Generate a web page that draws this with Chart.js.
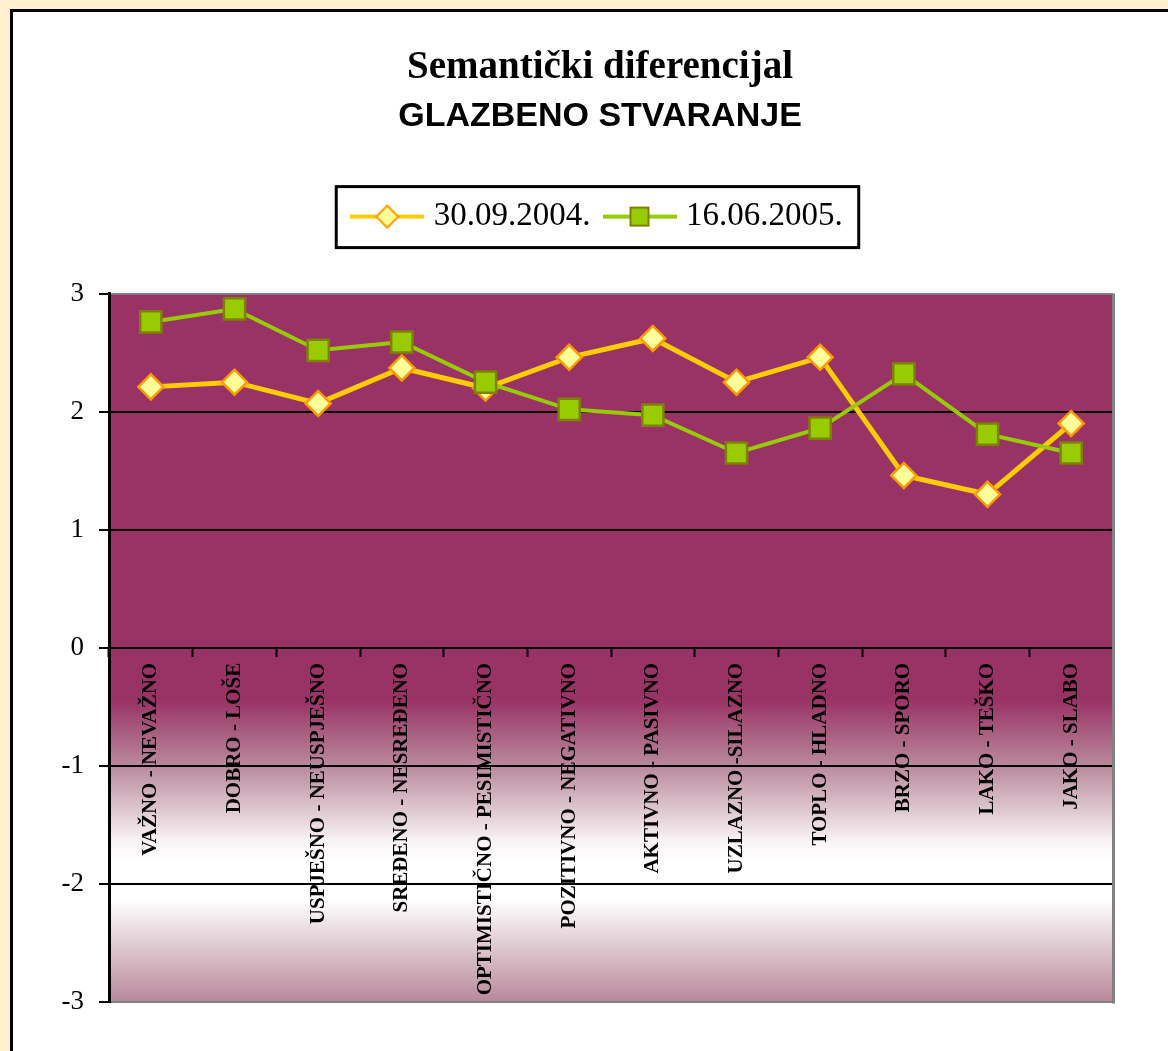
<!DOCTYPE html>
<html>
<head>
<meta charset="utf-8">
<script src="https://cdn.jsdelivr.net/npm/chart.js@4/dist/chart.umd.min.js"></script>
<style>
  body { margin: 0; background: #FFEFCC; width: 1168px; height: 1051px; overflow: hidden; }
  #panel { position: absolute; left: 10px; top: 9px; width: 1170px; height: 1060px; background: #fff;
           border-top: 3px solid #000; border-left: 3px solid #000; }
  #wrap { position: absolute; left: 0; top: 0; width: 1200px; height: 1051px; }
</style>
</head>
<body>
<div id="panel"></div>
<div id="wrap"><canvas id="chart" width="1200" height="1051"></canvas></div>
<script>
const categories = ['VAŽNO - NEVAŽNO', 'DOBRO - LOŠE', 'USPJEŠNO - NEUSPJEŠNO', 'SREĐENO - NESREĐENO',
  'OPTIMISTIČNO - PESIMISTIČNO', 'POZITIVNO - NEGATIVNO', 'AKTIVNO - PASIVNO', 'UZLAZNO -SILAZNO',
  'TOPLO - HLADNO', 'BRZO - SPORO', 'LAKO - TEŠKO', 'JAKO - SLABO'];
const series2004 = [2.21, 2.25, 2.07, 2.37, 2.20, 2.46, 2.62, 2.25, 2.46, 1.46, 1.30, 1.90];
const series2005 = [2.76, 2.87, 2.52, 2.59, 2.25, 2.02, 1.97, 1.65, 1.86, 2.32, 1.81, 1.65];
const yTicks = [3, 2, 1, 0, -1, -2, -3];

// legend icons: line with marker in the middle
function legendIcon(lineColor, lineW, shape, fill, stroke) {
  const c = document.createElement('canvas');
  c.width = 74; c.height = 30;
  const g = c.getContext('2d');
  g.strokeStyle = lineColor; g.lineWidth = lineW;
  g.beginPath(); g.moveTo(0, 15); g.lineTo(74, 15); g.stroke();
  g.fillStyle = fill; g.strokeStyle = stroke; g.lineWidth = 2;
  g.beginPath();
  if (shape === 'diamond') {
    g.moveTo(37, 4); g.lineTo(48, 15); g.lineTo(37, 26); g.lineTo(26, 15); g.closePath();
  } else {
    g.rect(28, 6, 18, 18);
  }
  g.fill(); g.stroke();
  return c;
}
const icons = [
  legendIcon('#FFCC00', 4, 'diamond', '#FFFF99', '#FF9900'),
  legendIcon('#99CC00', 4, 'square', '#99CC00', '#808000')
];

// plot area shading, right border, legend frame
const plotArea = {
  id: 'plotArea',
  beforeDraw(chart) {
    const {ctx, chartArea: a} = chart;
    const grd = ctx.createLinearGradient(0, a.top, 0, a.bottom);
    grd.addColorStop(0, '#993366');
    grd.addColorStop(0.574, '#993366');
    grd.addColorStop(0.667, '#B98A9C');
    grd.addColorStop(0.772, '#F8F2F4');
    grd.addColorStop(0.80, '#FFFFFF');
    grd.addColorStop(0.856, '#FFFFFF');
    grd.addColorStop(1, '#B8889A');
    ctx.save();
    ctx.fillStyle = grd;
    ctx.fillRect(a.left, a.top, a.right - a.left, a.bottom - a.top);
    ctx.restore();
  },
  beforeDatasetsDraw(chart) {
    const {ctx, chartArea: a} = chart;
    ctx.save();
    ctx.strokeStyle = '#808080'; ctx.lineWidth = 3;
    ctx.beginPath(); ctx.moveTo(a.right + 0.5, a.top); ctx.lineTo(a.right + 0.5, a.bottom + 1.5); ctx.stroke();
    ctx.restore();
  },
  afterDraw(chart) {
    const hb = chart.legend.legendHitBoxes;
    if (!hb || !hb.length) return;
    const last = hb[hb.length - 1];
    const left = hb[0].left - 21, right = last.left + last.width + 16;
    const cy = hb[0].top + 16.5;
    const {ctx} = chart;
    ctx.save();
    ctx.strokeStyle = '#000'; ctx.lineWidth = 3;
    ctx.strokeRect(left, cy - 30, right - left, 61);
    ctx.restore();
  }
};

new Chart(document.getElementById('chart'), {
  type: 'line',
  data: {
    labels: categories,
    datasets: [
      {
        label: '30.09.2004.',
        data: series2004,
        xAxisID: 'x',
        yAxisID: 'y',
        borderColor: '#FFCC00',
        borderWidth: 5,
        pointStyle: 'rectRot',
        pointRadius: 12.5,
        pointBackgroundColor: '#FFFF99',
        pointBorderColor: '#FF9900',
        pointBorderWidth: 2.5,
        tension: 0,
        order: 1
      },
      {
        label: '16.06.2005.',
        data: series2005,
        xAxisID: 'x',
        yAxisID: 'y',
        borderColor: '#99CC00',
        borderWidth: 4,
        pointStyle: 'rect',
        pointRadius: 15,
        pointBackgroundColor: '#99CC00',
        pointBorderColor: '#808000',
        pointBorderWidth: 2.5,
        tension: 0,
        order: 0
      }
    ]
  },
  options: {
    responsive: false,
    animation: false,
    events: [],
    layout: { padding: { top: 10, left: 0, right: 0, bottom: 49 } },
    scales: {
      x: {
        type: 'category',
        position: { y: 0 },
        offset: true,
        grid: { offset: true, drawOnChartArea: false, drawTicks: true, tickLength: 8, tickColor: '#000', tickWidth: 2 },
        border: { display: true, color: '#000', width: 2 },
        ticks: {
          autoSkip: false, maxRotation: 90, minRotation: 90, padding: 7, color: '#000',
          font: { family: 'Liberation Serif', size: 21, weight: 'bold' }
        }
      },
      topGap: {
        type: 'category',
        axis: 'x',
        position: 'top',
        grid: { display: false },
        border: { display: false },
        ticks: { display: false },
        afterFit(s) { s.height = 50.5; }
      },
      y: {
        min: -3, max: 3,
        afterBuildTicks(s) { s.ticks = yTicks.map(v => ({ value: v })); },
        afterFit(s) { s.width = 109; },
        grid: {
          color: c => (c.tick && Math.abs(c.tick.value) === 3) ? '#808080' : '#000',
          lineWidth: 2, tickLength: 10, tickColor: '#000', tickWidth: 2
        },
        border: { color: '#000', width: 3 },
        ticks: { padding: 15, color: '#000', font: { family: 'Liberation Serif', size: 27 } }
      },
      rightGap: {
        axis: 'y',
        position: 'right',
        grid: { display: false },
        border: { display: false },
        ticks: { display: false },
        afterFit(s) { s.width = 1200 - 1113; }
      }
    },
    plugins: {
      title: {
        display: true,
        text: 'Semantički diferencijal',
        color: '#000',
        font: { family: 'Liberation Serif', size: 39, weight: 'bold' },
        padding: { top: 35, bottom: 0 }
      },
      subtitle: {
        display: true,
        text: 'GLAZBENO STVARANJE',
        color: '#000',
        font: { family: 'Liberation Sans', size: 34, weight: 'bold' },
        padding: { top: 4, bottom: 44.5 }
      },
      legend: {
        display: true,
        labels: {
          usePointStyle: true,
          pointStyleWidth: 60,
          padding: 19,
          color: '#000',
          font: { family: 'Liberation Serif', size: 33 },
          sort: (a, b) => a.datasetIndex - b.datasetIndex,
          generateLabels(chart) {
            const items = Chart.defaults.plugins.legend.labels.generateLabels(chart);
            items.forEach(it => { it.pointStyle = icons[it.datasetIndex]; });
            return items;
          }
        }
      },
      tooltip: { enabled: false }
    }
  },
  plugins: [plotArea]
});
</script>
</body>
</html>
